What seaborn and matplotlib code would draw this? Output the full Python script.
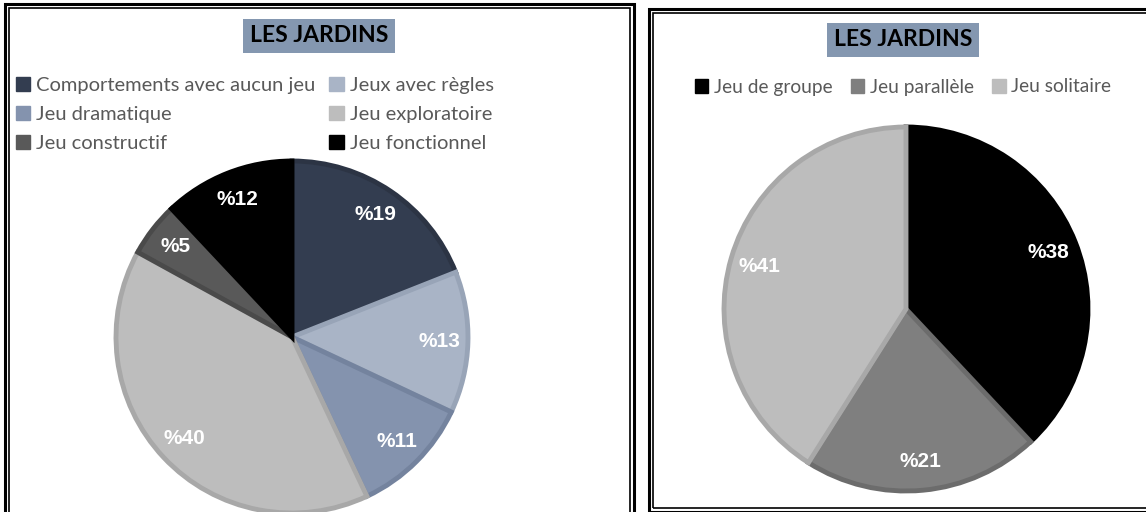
import matplotlib
matplotlib.use("Agg")
import matplotlib.pyplot as plt
import matplotlib.patches as mpatches
import seaborn as sns

# Données
cats_gauche = ["Comportements avec aucun jeu", "Jeux avec règles", "Jeu dramatique",
               "Jeu exploratoire", "Jeu constructif", "Jeu fonctionnel"]
vals_gauche = [19, 13, 11, 40, 5, 12]
couleurs_gauche = ["#333D50", "#A9B4C6", "#8493AE", "#BDBDBD", "#595959", "#000000"]
bords_gauche = ["#2C3444", "#98A4B7", "#74839E", "#A8A8A8", "#4A4A4A", "#000000"]

cats_droite = ["Jeu de groupe", "Jeu parallèle", "Jeu solitaire"]
vals_droite = [38, 21, 41]
couleurs_droite = ["#000000", "#7F7F7F", "#BDBDBD"]
bords_droite = ["#000000", "#6C6C6C", "#A8A8A8"]

titre = "LES JARDINS"

sns.set_theme(style="white")
plt.rcParams['font.family'] = ['Lato', 'DejaVu Sans']

W, H = 1146, 512
fig = plt.figure(figsize=(W / 100, H / 100), dpi=100)
fig.patch.set_facecolor("white")


def px_axes(cx, cy, r):
    # axes carré centré sur (cx, cy) en pixels (origine en haut à gauche)
    return fig.add_axes([(cx - r) / W, (H - cy - r) / H, 2 * r / W, 2 * r / H])


def cadre(x0, y0, x1, y1):
    # double bordure façon Excel
    for (a, b, c, d), lw in [((x0, y0, x1, y1), 2.2), ((x0 + 4, y0 + 4, x1 - 4, y1 - 4), 1.2)]:
        fig.patches.append(mpatches.Rectangle((a / W, 1 - d / H), (c - a) / W, (d - b) / H,
                                              transform=fig.transFigure, fill=False,
                                              ec="black", lw=lw))


def camembert(ax, vals, couleurs, bords):
    wedges, _, autotexts = ax.pie(
        vals, colors=couleurs, startangle=90, counterclock=False,
        autopct=lambda p: "%{:.0f}".format(p), pctdistance=0.84,
        wedgeprops=dict(linewidth=3.5),
        textprops=dict(color="white", fontsize=15, fontweight="bold",
                       family=["Liberation Sans", "DejaVu Sans"]))
    for w, b in zip(wedges, bords):
        w.set_edgecolor(b)
    ax.set_xlim(-1.0, 1.0)
    ax.set_ylim(-1.0, 1.0)
    ax.set_aspect("equal")
    ax.axis("off")
    return wedges


cadre(5, 4, 634, 530)
cadre(649, 9, 1160, 512)

# Graphique gauche
ax_g = px_axes(292, 337, 176)
wg = camembert(ax_g, vals_gauche, couleurs_gauche, bords_gauche)
ordre = [0, 2, 4, 1, 3, 5]
handles = [mpatches.Patch(color=couleurs_gauche[i]) for i in ordre]
fig.legend(handles, [cats_gauche[i] for i in ordre], ncol=2,
           loc="upper left", bbox_to_anchor=(16 / W, 1 - 77 / H),
           frameon=False, fontsize=14.5, labelcolor="#595959",
           handlelength=0.7, handleheight=0.7, handletextpad=0.3,
           columnspacing=0.7, labelspacing=0.6, borderaxespad=0, borderpad=0)

fig.text(319 / W, 1 - 36 / H, titre, ha="center", va="center", fontsize=16.5,
         fontweight="bold", color="black",
         bbox=dict(boxstyle="square,pad=0.3", fc="#8497B0", ec="none"))

# Graphique droite
ax_d = px_axes(906, 309, 182)
wd = camembert(ax_d, vals_droite, couleurs_droite, bords_droite)
handles_d = [mpatches.Patch(color=c) for c in couleurs_droite]
fig.legend(handles_d, cats_droite, ncol=3,
           loc="center", bbox_to_anchor=(903 / W, 1 - 87 / H),
           frameon=False, fontsize=13.8, labelcolor="#595959",
           handlelength=0.7, handleheight=0.7, handletextpad=0.3,
           columnspacing=0.95, borderaxespad=0, borderpad=0)

fig.text(903 / W, 1 - 40 / H, titre, ha="center", va="center", fontsize=16.5,
         fontweight="bold", color="black",
         bbox=dict(boxstyle="square,pad=0.3", fc="#8497B0", ec="none"))

plt.savefig("out.png", dpi=100, facecolor="white")
